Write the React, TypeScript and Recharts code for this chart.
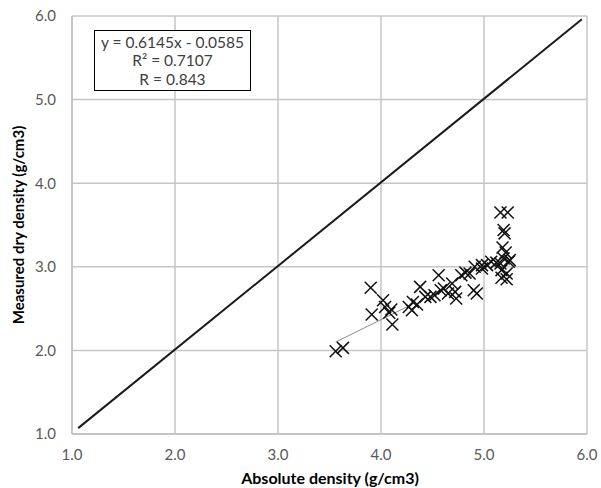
import React from 'react';
import { ScatterChart, Scatter, XAxis, YAxis, CartesianGrid, ReferenceLine } from 'recharts';

// absolute density (x) vs measured dry density (y)
const absDensity = [
  3.56, 3.63, 3.9, 3.91, 4.02, 4.04, 4.08, 4.1, 4.11,
  4.27, 4.3, 4.31, 4.35, 4.38, 4.43, 4.48, 4.52, 4.56, 4.58, 4.61,
  4.65, 4.69, 4.72, 4.73, 4.78, 4.82, 4.86, 4.9, 4.93, 4.91,
  4.98, 4.98, 5.03, 5.07, 5.12, 5.16, 5.24, 5.17, 5.22, 5.17, 5.22,
  5.16, 5.23, 5.19, 5.2, 5.18, 5.21, 5.19, 5.25,
];
const dryDensity = [
  1.99, 2.03, 2.75, 2.43, 2.6, 2.52, 2.45, 2.49, 2.31,
  2.52, 2.48, 2.58, 2.55, 2.76, 2.64, 2.64, 2.66, 2.9, 2.72, 2.74,
  2.68, 2.8, 2.7, 2.62, 2.9, 2.93, 2.92, 2.72, 2.68, 3.0,
  3.02, 2.98, 3.02, 3.06, 3.05, 3.04, 3.06, 2.96, 2.92, 2.87, 2.85,
  3.65, 3.65, 3.44, 3.4, 3.23, 3.17, 3.1, 3.08,
];
const ticks = [1, 2, 3, 4, 5, 6];
const equality = [{ x: 1.06, y: 1.07 }, { x: 5.95, y: 5.96 }];
const connector = [{ x: 3.56, y: 2.1 }, { x: 4.25, y: 2.52 }];
const fitLines = ['y = 0.6145x - 0.0585', 'R² = 0.7107', 'R = 0.843'];

const points = absDensity.map((x, i) => ({ x, y: dryDensity[i] }));

const tickStyle = { fill: '#595959', fontSize: 15, fontFamily: 'Lato' };

const Cross = (props: any) => {
  const { cx, cy } = props;
  const r = 6;
  return (
    <g stroke="#111" strokeWidth={1.5}>
      <line x1={cx - r} y1={cy - r} x2={cx + r} y2={cy + r} />
      <line x1={cx - r} y1={cy + r} x2={cx + r} y2={cy - r} />
    </g>
  );
};

export default function App() {
  return (
    <div style={{ position: 'absolute', left: 0, top: 0, width: 601, height: 488, background: '#fff' }}>
      <ScatterChart width={601} height={488} margin={{ top: 16, right: 14, left: 0, bottom: 0 }}>
        <CartesianGrid stroke="#c6c6c6" strokeWidth={1.5} />
        <XAxis
          type="number"
          dataKey="x"
          domain={[1, 6]}
          ticks={ticks}
          height={54}
          tickFormatter={(v) => v.toFixed(1)}
          tick={tickStyle}
          tickLine={false}
          tickSize={0}
          tickMargin={15}
          stroke="#bfbfbf"
          strokeWidth={1.5}
          label={{
            content: () => (
              <text x={330} y={484} textAnchor="middle" fontFamily="Lato" fontWeight="bold" fontSize={16} fill="#000">
                Absolute density (g/cm3)
              </text>
            ),
          }}
        />
        <YAxis
          type="number"
          dataKey="y"
          domain={[1, 6]}
          ticks={ticks}
          width={72}
          tickFormatter={(v) => v.toFixed(1)}
          tick={tickStyle}
          tickLine={false}
          tickSize={0}
          tickMargin={16}
          stroke="#bfbfbf"
          strokeWidth={1.5}
          label={{
            content: () => (
              <text
                x={20}
                y={225}
                transform="rotate(-90 20 225)"
                textAnchor="middle"
                dominantBaseline="middle"
                fontFamily="Lato"
                fontWeight="bold"
                fontSize={15}
                fill="#000"
              >
                Measured dry density (g/cm3)
              </text>
            ),
          }}
        />
        <ReferenceLine segment={equality} stroke="#1a1a1a" strokeWidth={2} ifOverflow="extendDomain" />
        <ReferenceLine segment={connector} stroke="#8c8c8c" strokeWidth={1} />
        <Scatter data={points} shape={Cross} isAnimationActive={false} />
      </ScatterChart>
      <div
        style={{
          position: 'absolute',
          left: 94,
          top: 30,
          width: 155,
          height: 57,
          border: '1.5px solid #000',
          background: '#fff',
          fontFamily: 'Lato',
          fontSize: 15.5,
          color: '#404040',
          textAlign: 'center',
          lineHeight: '18.3px',
          paddingTop: 2,
          boxSizing: 'content-box',
        }}
      >
        {fitLines.map((t) => (
          <div key={t}>{t}</div>
        ))}
      </div>
    </div>
  );
}
